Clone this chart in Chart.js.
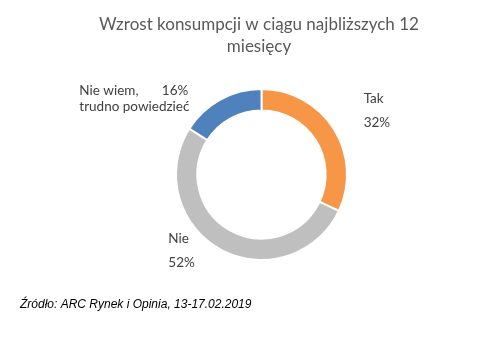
<!DOCTYPE html>
<html lang="pl">
<head>
<meta charset="utf-8">
<title>Wzrost konsumpcji w ciągu najbliższych 12 miesięcy</title>
<script src="https://cdn.jsdelivr.net/npm/chart.js@4/dist/chart.umd.min.js"></script>
<style>
  html, body { margin: 0; padding: 0; background: #ffffff; }
  #wrap { width: 493px; height: 349px; }
</style>
</head>
<body>
<div id="wrap"><canvas id="chart" width="493" height="349"></canvas></div>
<script>
// Survey answers and their shares (%)
const categories = ['Tak', 'Nie', 'Nie wiem, trudno powiedzieć'];
const shares = [32, 52, 16];
const titleLines = ['Wzrost konsumpcji w ciągu najbliższych 12', 'miesięcy'];
const sourceNote = 'Źródło: ARC Rynek i Opinia, 13-17.02.2019';

const sliceColors = ['#F79646', '#BFBFBF', '#4F81BD'];
const labelFont = '13.5px Lato, "Open Sans", sans-serif';
const labelColor = '#404040';

// Where each slice label sits, relative to the outer edge at the slice's mid-angle
const labelPlacement = [
  { dx: 30, dy: -30, lines: (c, v) => [[c], [v]], gap: 24 },
  { dx: -52, dy: -11, lines: (c, v) => [[c], [v]], gap: 24 },
  { dx: -141, dy: -9, lines: (c, v) => [['Nie wiem,', v], ['trudno powiedzieć']], gap: 16, width: 109 }
];

const textPlugin = {
  id: 'texts',
  afterDraw(chart) {
    const ctx = chart.ctx;
    ctx.save();
    // title
    ctx.fillStyle = '#595959';
    ctx.font = '17px Lato, "Open Sans", sans-serif';
    ctx.textAlign = 'center';
    ctx.textBaseline = 'middle';
    titleLines.forEach((t, i) => ctx.fillText(t, 259, 25 + i * 22));

    // slice labels anchored on the arcs
    const meta = chart.getDatasetMeta(0);
    ctx.font = labelFont;
    ctx.fillStyle = labelColor;
    ctx.textBaseline = 'middle';
    meta.data.forEach((arc, i) => {
      const p = arc.getProps(['x', 'y', 'startAngle', 'endAngle', 'outerRadius'], true);
      const mid = (p.startAngle + p.endAngle) / 2;
      const ax = p.x + Math.cos(mid) * p.outerRadius;
      const ay = p.y + Math.sin(mid) * p.outerRadius;
      const lp = labelPlacement[i];
      const x0 = ax + lp.dx;
      const y0 = ay + lp.dy;
      const rows = lp.lines(categories[i], shares[i] + '%');
      rows.forEach((row, r) => {
        const y = y0 + r * lp.gap;
        ctx.textAlign = 'left';
        ctx.fillText(row[0], x0, y);
        if (row.length === 2) {
          ctx.textAlign = 'right';
          ctx.fillText(row[1], x0 + lp.width, y);
        }
      });
    });

    // source note
    ctx.font = 'italic 12px "Liberation Sans", Arial, sans-serif';
    ctx.fillStyle = '#000000';
    ctx.textAlign = 'left';
    ctx.fillText(sourceNote, 20, 305);
    ctx.restore();
  }
};

new Chart(document.getElementById('chart'), {
  type: 'doughnut',
  data: {
    labels: categories,
    datasets: [{
      data: shares,
      backgroundColor: sliceColors,
      borderColor: '#ffffff',
      borderWidth: 2
    }]
  },
  options: {
    responsive: false,
    animation: false,
    cutout: '75%',
    layout: { padding: { left: 175, right: 145, top: 88, bottom: 88 } },
    plugins: {
      legend: { display: false },
      title: { display: false },
      tooltip: { enabled: false }
    }
  },
  plugins: [textPlugin]
});
</script>
</body>
</html>
